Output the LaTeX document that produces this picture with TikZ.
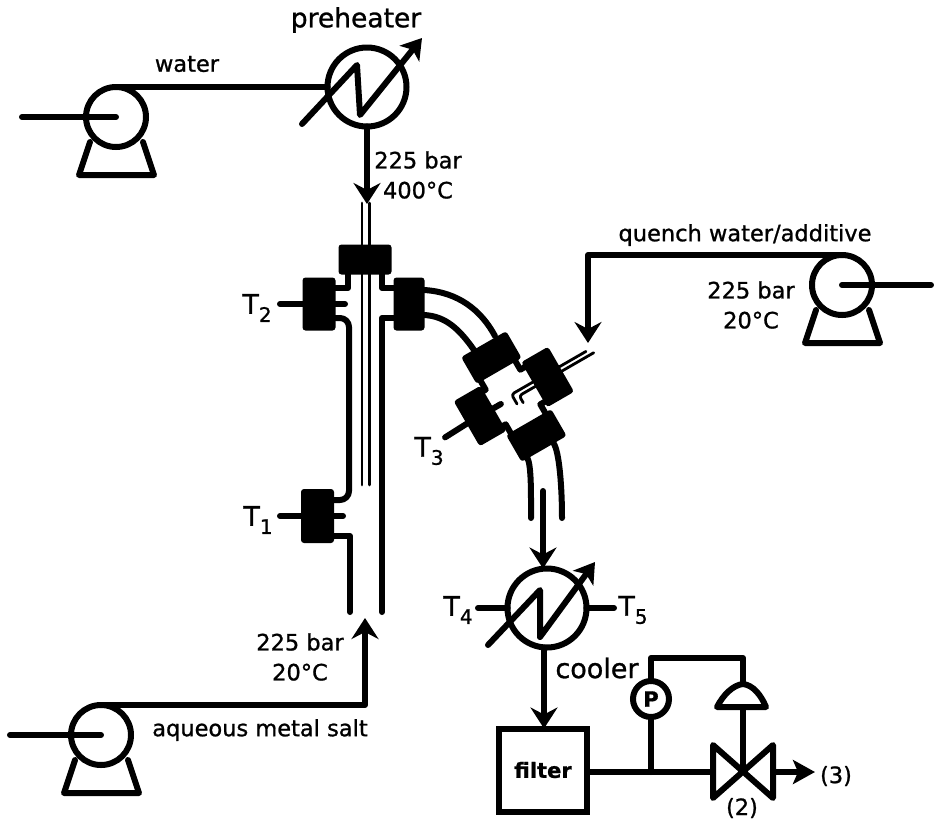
\documentclass[tikz,border=0pt]{standalone}
\usepackage{fontspec}
\setmainfont{DejaVu Sans}[FakeBold=1]
\usetikzlibrary{arrows.meta,positioning}
\newcommand{\tsub}[1]{T\raisebox{-.3em}{\fontsize{20}{20}\selectfont #1}}
\tikzset{
  pipe/.style={line width=6pt, line cap=round, line join=round},
  thinpipe/.style={line width=2.8pt, line cap=round, line join=round},
  flow/.style={pipe, -{Stealth[length=21pt, width=27pt, inset=7pt]}},
  unit/.style={draw, line width=6pt, circle, inner sep=0pt, outer sep=0pt, fill=white},
  flange/.style={fill=black, rounded corners=3pt, inner sep=0pt, outer sep=0pt},
  lbl/.style={font=\fontsize{22.5}{27}\selectfont, align=center, inner sep=0pt},
  bigl/.style={font=\fontsize{27}{30}\selectfont, inner sep=0pt}
}
\begin{document}
\begin{tikzpicture}[x=1pt, y=-1pt]
\useasboundingbox (0,0) rectangle (934,820);
\foreach \pumpname/\px/\py in {pumpwater/116/117, pumpquench/842/285, pumpsalt/101/735}{
  \draw[pipe] (\px-26,\py+25) -- (\px-37,\py+58) -- (\px+38,\py+58) -- (\px+27,\py+25);
  \node[unit, minimum size=60pt] (\pumpname) at (\px,\py) {};
}
\node[unit, minimum size=79pt] (preheater) at (367,87) {};
\node[unit, minimum size=79pt] (cooler) at (547,608) {};
\node[unit, minimum size=36pt] (gauge) at (651,699) {\bfseries\fontsize{21}{21}\selectfont P};
\node[draw, line width=6pt, minimum width=88pt, minimum height=83pt, inner sep=0pt, outer sep=0pt] (filter) at (543,770) {\bfseries\fontsize{21}{21}\selectfont filter};
\coordinate (valve) at (743,772);
\coordinate (feedwater) at (22,117);
\coordinate (feedquench) at (931,285);
\coordinate (feedsalt) at (10,735);
\coordinate (tubetop) at (367,204);
\coordinate (tubebottom) at (365,618);
\coordinate (quenchin) at (588,343);
\coordinate (outlet) at (815,772);
\coordinate (filterbranch) at (651,772);

\draw[pipe] (feedwater) -- (pumpwater.center);
\draw[pipe] (feedquench) -- (pumpquench.center);
\draw[pipe] (feedsalt) -- (pumpsalt.center);
\draw[pipe] (pumpwater.north) -- (preheater.west);
\draw[flow] (preheater.south) -- (tubetop);
\draw[flow] (pumpquench.north) -| (quenchin);
\draw[flow] (pumpsalt.north) -| (tubebottom);

\draw[pipe, -{Stealth[length=20pt, width=25pt, inset=5pt]}] (302,124) -- (357,65) -- (360,115) -- (422,38);
\draw[pipe, -{Stealth[length=20pt, width=25pt, inset=5pt]}] (488,645) -- (540,590) -- (540,637) -- (595,562);

\node[flange, minimum width=53pt, minimum height=30pt] (flangetop) at (365,259.5) {};
\node[flange, minimum width=33pt, minimum height=53pt] (flangeleft) at (319,304) {};
\node[flange, minimum width=31pt, minimum height=53pt] (flangeright) at (409,304) {};
\node[flange, minimum width=33pt, minimum height=54pt] (flangelow) at (317.5,516) {};
\draw[thinpipe] (362,203) -- (362,485);
\draw[thinpipe] (369.5,203) -- (369.5,485);
\draw[pipe] (348,274) -- (348,288) -- (flangeleft.east |- 0,288);
\draw[pipe, rounded corners=9pt] (flangeleft.east |- 0,318) -- (349,318) -- (349,500) -- (flangelow.east |- 0,500);
\draw[pipe] (flangelow.east |- 0,536) -- (350,536) -- (350,612);
\draw[pipe] (382,274) -- (382,288) -- (flangeright.west |- 0,288);
\draw[pipe] (flangeright.west |- 0,318) -- (382,318) -- (382,612);
\draw[pipe] (flangeleft.east) -- (345,304);
\draw[pipe] (flangelow.east) -- (343,516);
\node[bigl] (ttwo) at (257,308) {\tsub{2}};
\node[bigl] (tone) at (258,520) {\tsub{1}};
\draw[pipe] (280,304) -- (flangeleft.west);
\draw[pipe] (280,516) -- (flangelow.west);

\begin{scope}[shift={(513,397)}, rotate=30, transform shape]
\node[flange, minimum width=52pt, minimum height=31pt] (crossa) at (1,-45) {};
\node[flange, minimum width=52pt, minimum height=31pt] (crossd) at (1,45) {};
\node[flange, minimum width=31pt, minimum height=52pt] (crossc) at (-38,0) {};
\draw[pipe, line cap=butt] (-20,-31) -- (-20,-20) -- (-24,-20);
\draw[pipe, line cap=butt] (20,-31) -- (20,-20) -- (26,-20);
\draw[pipe, line cap=butt] (-24,20) -- (-20,20) -- (-20,31);
\draw[pipe, line cap=butt] (26,20) -- (20,20) -- (20,31);
\draw[pipe] (crossc.west) -- (-79,1);
\draw[pipe] (crossc.east) -- (-14,0);
\draw[thinpipe, rounded corners=3pt] (86,-3) -- (0,-3) -- (0,8);
\draw[thinpipe, rounded corners=3pt] (92,2) -- (6,2) -- (6,10);
\node[flange, minimum width=31pt, minimum height=52pt] (crossb) at (40,0) {};
\coordinate (pipeout) at (-18,60);
\coordinate (pipeinner) at (12,60);
\end{scope}

\draw[pipe] (424,290) .. controls +(34,2) and +(-14,-26) .. (495,336);
\draw[pipe] (424,315) .. controls +(22,1) and +(-14,-20) .. (474,350);
\draw[pipe] (pipeout) .. controls +(4,8) and +(0,-25) .. (531,518);
\draw[pipe] (pipeinner) .. controls +(6,8) and +(0,-30) .. (562,518);
\draw[flow] (543,491) -- (cooler.north -| 543,0);

\draw[pipe] (cooler.west) -- (478,608);
\draw[pipe] (cooler.east) -- (614,608);
\draw[flow] (cooler.south -| 544,0) -- (filter.north -| 544,0);

\draw[pipe] (filter.east |- valve) -- (valve);
\draw[pipe, fill=white] (713,745) -- (713,798) -- (773,745) -- (773,798) -- cycle;
\draw[flow, -{Stealth[length=22pt, width=24pt, inset=5pt]}] (775,772) -- (outlet);
\draw[pipe] (gauge.south) -- (filterbranch);
\draw[pipe] (gauge.north) -- (651,658) -- (743,658) -- (743,690);
\draw[pipe] (valve) -- (743,706);
\draw[pipe, fill=white] (717,707) .. controls (723,695) and (733,685) .. (743,684) .. controls (753,685) and (761,695) .. (766,707) -- cycle;

\node[lbl, font=\fontsize{26.5}{30}\selectfont] (preheaterlabel) at (356,20) {preheater};
\node[lbl] (waterlabel) at (187,64) {water};
\node[lbl] (toptext) at (418,175) {225 bar\\[3pt]400\textdegree C};
\node[lbl] (quenchlabel) at (745,235) {quench water/additive};
\node[lbl] (quenchtext) at (751,305) {225 bar\\[3pt]20\textdegree C};
\node[lbl] (salttext) at (300,657) {225 bar\\[3pt]20\textdegree C};
\node[lbl] (saltlabel) at (260,730) {aqueous metal salt};
\node[bigl] (tthree) at (429,451) {\tsub{3}};
\node[bigl] (tfour) at (458,610) {\tsub{4}};
\node[bigl] (tfive) at (633,610) {\tsub{5}};
\node[lbl, font=\fontsize{27}{30}\selectfont] (coolerlabel) at (597,668) {cooler};
\node[lbl] (threelabel) at (836,776) {(3)};
\node[lbl] (twolabel) at (742,808) {(2)};
\end{tikzpicture}
\end{document}
